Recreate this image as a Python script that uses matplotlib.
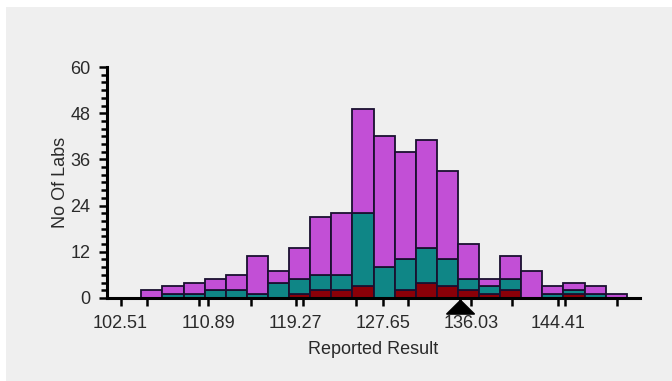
import matplotlib.pyplot as plt
from matplotlib.patches import Polygon, Rectangle
from matplotlib.ticker import MultipleLocator

# bins of the histogram (reported result)
bin_left = 104.5
bin_width = 2.02
n_total = [2, 3, 4, 5, 6, 11, 7, 13, 21, 22, 49, 42, 38, 41, 33, 14, 5, 11, 7, 3, 4, 3, 1]
n_teal = [0, 1, 1, 2, 2, 1, 4, 5, 6, 6, 22, 8, 10, 13, 10, 5, 3, 5, 0, 1, 2, 1, 0]
n_red = [0, 0, 0, 0, 0, 0, 0, 1, 2, 2, 3, 0, 2, 4, 3, 2, 1, 2, 0, 0, 1, 0, 0]

tick_values = [102.51, 110.89, 119.27, 127.65, 136.03, 144.41]
tick_labels = ['102.51', '110.89', '119.27', '127.65', '136.03', '144.41']
marker_value = 135.05

plt.rcParams['font.family'] = ['Liberation Sans', 'DejaVu Sans']

bg = '#efefef'
fig = plt.figure(figsize=(6.72, 3.81), dpi=100, facecolor='white')
# grey panel with a thin white border on top and left
fig.patches.append(Rectangle((6 / 672, 0), 1, 1 - 7 / 381, transform=fig.transFigure,
                             facecolor=bg, edgecolor='none', zorder=-10))

ax = fig.add_axes([0.159, 0.218, 0.793, 0.606])
ax.set_facecolor(bg)

lefts = [bin_left + i * bin_width for i in range(len(n_total))]
edge = '#1a1030'
magenta = '#c24fd6'
teal = '#0f8686'
red = '#8a0008'

for x, tot, te, re in zip(lefts, n_total, n_teal, n_red):
    if re > 0:
        ax.bar(x, re, width=bin_width, bottom=0, align='edge', color=red,
               edgecolor=edge, linewidth=1.3)
    if te > re:
        ax.bar(x, te - re, width=bin_width, bottom=re, align='edge', color=teal,
               edgecolor=edge, linewidth=1.3)
    if tot > te:
        ax.bar(x, tot - te, width=bin_width, bottom=te, align='edge', color=magenta,
               edgecolor=edge, linewidth=1.3)

ax.set_xlim(101.2, 152.2)
ax.set_ylim(0, 60)

ax.spines['top'].set_visible(False)
ax.spines['right'].set_visible(False)
ax.spines['left'].set_linewidth(2.2)
ax.spines['bottom'].set_linewidth(2.2)

ax.yaxis.set_major_locator(MultipleLocator(12))
ax.yaxis.set_minor_locator(MultipleLocator(2))
ax.set_xticks(tick_values)
ax.set_xticklabels(tick_labels)
ax.xaxis.set_minor_locator(MultipleLocator(5))

ax.tick_params(axis='y', which='major', length=6, width=1.8, pad=6,
               labelsize=13, labelcolor='#2a2a2a')
ax.tick_params(axis='y', which='minor', length=4, width=1.8)
ax.tick_params(axis='x', which='both', length=5.5, width=1.8, pad=7,
               labelsize=13, labelcolor='#2a2a2a')

ax.set_xlabel('Reported Result', fontsize=13, color='#2a2a2a', labelpad=6)
ax.set_ylabel('No Of Labs', fontsize=13, color='#2a2a2a', labelpad=1)

# assigned value marker under the axis
trans = ax.get_xaxis_transform()
half = 1.34
tri = Polygon([[marker_value - half, -0.07], [marker_value + half, -0.07],
               [marker_value, -0.01]], closed=True, transform=trans,
              facecolor='black', edgecolor='black', clip_on=False, zorder=5)
ax.add_patch(tri)

fig.savefig('out.png', dpi=100, facecolor=fig.get_facecolor())
